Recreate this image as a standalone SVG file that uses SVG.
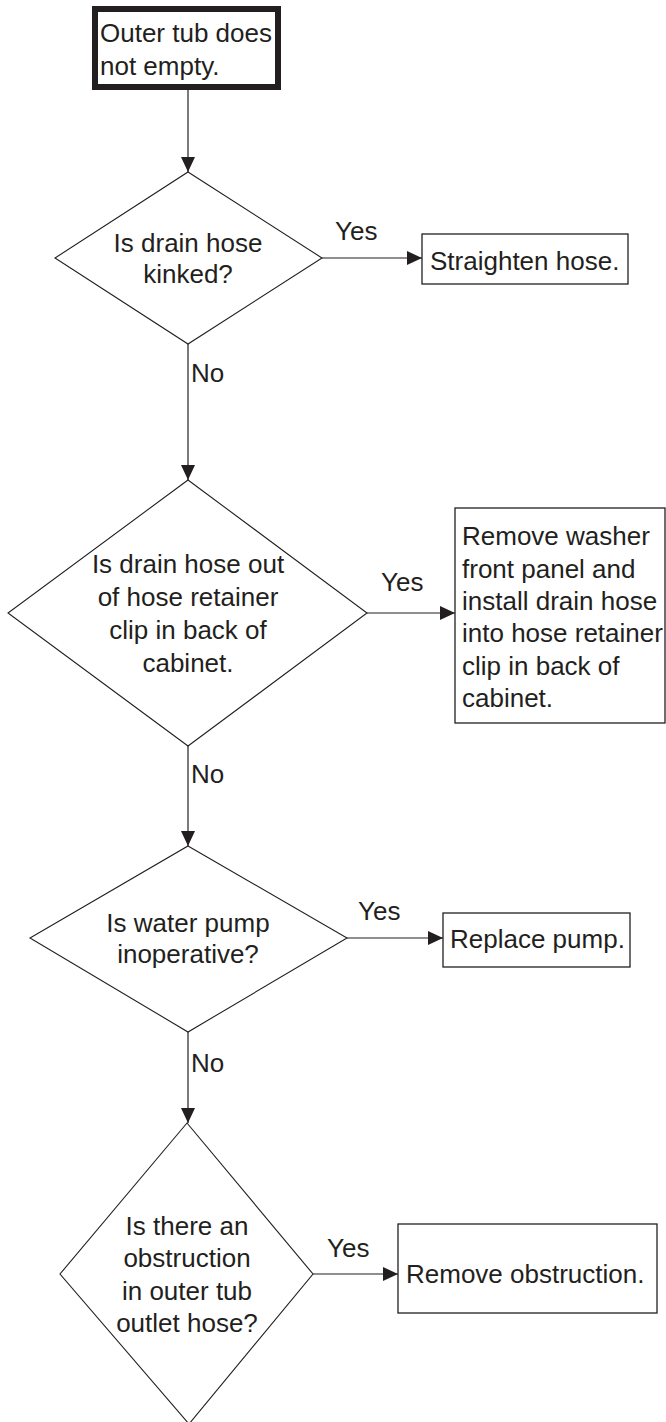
<svg xmlns="http://www.w3.org/2000/svg" width="666" height="1422" viewBox="0 0 666 1422">
<style>
text{font-family:"Liberation Sans",Arial,sans-serif;font-size:26px;fill:#231f20}
.c{text-anchor:middle}
.dia{fill:#fff;stroke:#231f20;stroke-width:1.1}
.box{fill:#fff;stroke:#231f20;stroke-width:1.3}
.ln{stroke:#231f20;stroke-width:1.2;fill:none}
</style>
<defs>
<marker id="ah" markerWidth="15" markerHeight="14" refX="15" refY="7" orient="auto" markerUnits="userSpaceOnUse">
<path d="M0,0 L15,7 L0,14 Z" fill="#231f20"/>
</marker>
</defs>
<rect width="666" height="1422" fill="#fff"/>
<g id="connectors">
<line class="ln" x1="188" y1="90" x2="188" y2="172" marker-end="url(#ah)"/>
<line class="ln" x1="322" y1="258" x2="422" y2="258" marker-end="url(#ah)"/>
<line class="ln" x1="188" y1="344" x2="188" y2="480" marker-end="url(#ah)"/>
<line class="ln" x1="367" y1="613" x2="455" y2="613" marker-end="url(#ah)"/>
<line class="ln" x1="188" y1="746" x2="188" y2="846" marker-end="url(#ah)"/>
<line class="ln" x1="347" y1="938" x2="443" y2="938" marker-end="url(#ah)"/>
<line class="ln" x1="188" y1="1032" x2="188" y2="1123" marker-end="url(#ah)"/>
<line class="ln" x1="313" y1="1274" x2="398" y2="1274" marker-end="url(#ah)"/>
<text x="335" y="240">Yes</text>
<text x="191" y="382">No</text>
<text x="381" y="591">Yes</text>
<text x="191" y="783">No</text>
<text x="358" y="920">Yes</text>
<text x="191" y="1072">No</text>
<text x="327" y="1257">Yes</text>
</g>
<g id="start">
<rect x="95" y="9" width="183" height="78" fill="#fff" stroke="#231f20" stroke-width="6"/>
<text x="100" y="42">Outer tub does</text>
<text x="100" y="75">not empty.</text>
</g>
<g id="q1">
<polygon class="dia" points="188,172 322,258 188,344 55,258"/>
<text class="c" x="188" y="252">Is drain hose</text>
<text class="c" x="188" y="283">kinked?</text>
</g>
<g id="a1">
<rect class="box" x="422" y="234" width="206" height="50"/>
<text x="430" y="270">Straighten hose.</text>
</g>
<g id="q2">
<polygon class="dia" points="188,480 367,613 188,746 8,613"/>
<text class="c" x="188" y="573">Is drain hose out</text>
<text class="c" x="188" y="606">of hose retainer</text>
<text class="c" x="188" y="639">clip in back of</text>
<text class="c" x="188" y="672">cabinet.</text>
</g>
<g id="a2">
<rect class="box" x="455" y="508" width="210" height="215"/>
<text x="462" y="545">Remove washer</text>
<text x="462" y="578">front panel and</text>
<text x="462" y="610">install drain hose</text>
<text x="462" y="642">into hose retainer</text>
<text x="462" y="675">clip in back of</text>
<text x="462" y="707">cabinet.</text>
</g>
<g id="q3">
<polygon class="dia" points="188,846 347,938 188,1032 30,938"/>
<text class="c" x="188" y="932">Is water pump</text>
<text class="c" x="188" y="963">inoperative?</text>
</g>
<g id="a3">
<rect class="box" x="443" y="913" width="187" height="54"/>
<text x="450" y="948">Replace pump.</text>
</g>
<g id="q4">
<polygon class="dia" points="187,1123 313,1274 189,1424 60,1274"/>
<text class="c" x="187" y="1235">Is there an</text>
<text class="c" x="187" y="1267">obstruction</text>
<text class="c" x="187" y="1300">in outer tub</text>
<text class="c" x="187" y="1332">outlet hose?</text>
</g>
<g id="a4">
<rect class="box" x="398" y="1224" width="259" height="89"/>
<text x="406" y="1283">Remove obstruction.</text>
</g>
</svg>
